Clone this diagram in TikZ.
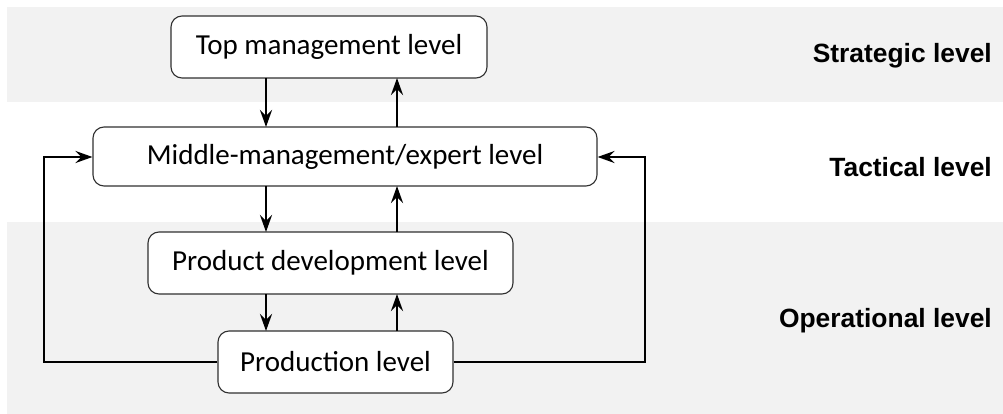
\documentclass[tikz,border=0pt]{standalone}
\usepackage{fontspec}
\setmainfont{Carlito}
\newfontfamily\lblfont{Liberation Sans}
\usetikzlibrary{arrows.meta}
\definecolor{bandgray}{HTML}{F2F2F2}
\definecolor{boxline}{HTML}{303030}
\tikzset{
  levelbox/.style={draw=boxline, line width=1.1pt, rounded corners=11pt, fill=white,
    inner sep=0pt, font=\fontsize{29}{34}\selectfont},
  flow/.style={line width=2.8pt, -{Stealth[length=17pt, width=12pt, inset=6pt]}},
  bandlabel/.style={anchor=east, inner sep=0pt, font=\lblfont\bfseries\fontsize{26.4}{30}\selectfont},
  band/.style={fill=bandgray, draw=none}
}
\begin{document}
\begin{tikzpicture}[x=1pt, y=-1pt]
\useasboundingbox (0,0) rectangle (1003,414);
\fill[band] (7,7) rectangle (1003,102);
\fill[band] (7,222) rectangle (1003,414);

\node[levelbox, minimum width=316pt, minimum height=62pt] (top) at (329,47) {Top management level};
\node[levelbox, minimum width=504pt, minimum height=59pt] (mid) at (345,156.5) {Middle-management/expert level};
\node[levelbox, minimum width=365pt, minimum height=62pt] (prod) at (330.5,263) {Product development level};
\node[levelbox, minimum width=235pt, minimum height=62pt] (pl) at (335.5,362) {Production level};

\draw[flow] (266,78) -- (266,127);
\draw[flow] (397,127) -- (397,78);
\draw[flow] (266,186) -- (266,232);
\draw[flow] (397,232) -- (397,186);
\draw[flow] (266,294) -- (266,331);
\draw[flow] (397,331) -- (397,294);

\coordinate (lb) at (44,362);
\coordinate (lt) at (44,157);
\coordinate (rb) at (645,362);
\coordinate (rt) at (645,157);
\draw[flow] (pl.west) -- (lb) -- (lt) -- (mid.west |- lt);
\draw[flow] (pl.east) -- (rb) -- (rt) -- (mid.east |- rt);

\node[bandlabel] (strat) at (992,56) {Strategic level};
\node[bandlabel] (tact) at (992,167) {Tactical level};
\node[bandlabel] (oper) at (992,321) {Operational level};
\end{tikzpicture}
\end{document}
